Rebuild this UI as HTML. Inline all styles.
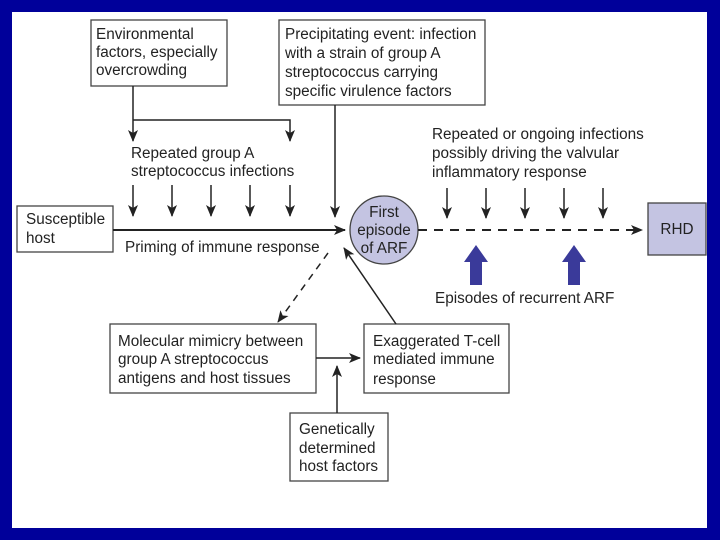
<!DOCTYPE html>
<html><head><style>
body{margin:0;background:#00009a;}
svg{display:block}
text{font-family:"Liberation Sans",sans-serif;font-size:15.3px;fill:#222}
</style></head><body>
<svg width="720" height="540" xmlns="http://www.w3.org/2000/svg">
<defs>
<marker id="a" markerWidth="12" markerHeight="10" refX="11" refY="5" orient="auto" markerUnits="userSpaceOnUse"><path d="M0,0 L12,5 L0,10 L3,5z" fill="#222"/></marker>
</defs>
<rect x="0" y="0" width="720" height="540" fill="#00009a"/>
<rect x="12" y="12" width="695" height="516" fill="#fff"/>
<g stroke="#444" stroke-width="1.3" fill="#fff">
<rect x="91" y="20" width="136" height="66"/>
<rect x="279" y="20" width="206" height="85"/>
<rect x="17" y="206" width="96" height="46"/>
<rect x="648" y="203" width="58" height="52" fill="#c4c4e2"/>
<circle cx="384" cy="230" r="34" fill="#c4c4e2"/>
<rect x="110" y="324" width="206" height="69"/>
<rect x="364" y="324" width="145" height="69"/>
<rect x="290" y="413" width="98" height="68"/>
</g>
<g stroke="#222" stroke-width="1.5" fill="none">
<path d="M133 86 V141" marker-end="url(#a)"/>
<path d="M133 120 H290 V141" marker-end="url(#a)"/>
<path d="M133 185 V216" marker-end="url(#a)"/>
<path d="M172 185 V216" marker-end="url(#a)"/>
<path d="M211 185 V216" marker-end="url(#a)"/>
<path d="M250 185 V216" marker-end="url(#a)"/>
<path d="M290 185 V216" marker-end="url(#a)"/>
<path d="M335 105 V217" marker-end="url(#a)"/>
<path d="M113 230 H345" stroke-width="2" marker-end="url(#a)"/>
<path d="M418 230 H642" stroke-width="2" stroke-dasharray="9,7" marker-end="url(#a)"/>
<path d="M447 188 V218" marker-end="url(#a)"/>
<path d="M486 188 V218" marker-end="url(#a)"/>
<path d="M525 188 V218" marker-end="url(#a)"/>
<path d="M564 188 V218" marker-end="url(#a)"/>
<path d="M603 188 V218" marker-end="url(#a)"/>
<path d="M328 253 L278 322" stroke-dasharray="7,6" marker-end="url(#a)"/>
<path d="M396 324 L344 248" marker-end="url(#a)"/>
<path d="M316 358 H360" marker-end="url(#a)"/>
<path d="M337 413 V366" marker-end="url(#a)"/>
</g>
<g fill="#3a3a9a">
<path d="M470 285 V262 H464 L476 245 L488 262 H482 V285z"/>
<path d="M568 285 V262 H562 L574 245 L586 262 H580 V285z"/>
</g>
<text x="96" y="39">Environmental</text>
<text x="96" y="57">factors, especially</text>
<text x="96" y="75">overcrowding</text>
<text x="285" y="39">Precipitating event: infection</text>
<text x="285" y="58">with a strain of group A</text>
<text x="285" y="77">streptococcus carrying</text>
<text x="285" y="96">specific virulence factors</text>
<text x="131" y="158">Repeated group A</text>
<text x="131" y="176">streptococcus infections</text>
<text x="26" y="224">Susceptible</text>
<text x="26" y="243">host</text>
<text x="125" y="252">Priming of immune response</text>
<text x="384" y="217" text-anchor="middle">First</text>
<text x="384" y="235" text-anchor="middle">episode</text>
<text x="384" y="253" text-anchor="middle">of ARF</text>
<text x="677" y="234" text-anchor="middle">RHD</text>
<text x="432" y="139">Repeated or ongoing infections</text>
<text x="432" y="158">possibly driving the valvular</text>
<text x="432" y="177">inflammatory response</text>
<text x="435" y="303">Episodes of recurrent ARF</text>
<text x="118" y="346">Molecular mimicry between</text>
<text x="118" y="364">group A streptococcus</text>
<text x="118" y="383">antigens and host tissues</text>
<text x="373" y="346">Exaggerated T-cell</text>
<text x="373" y="364">mediated immune</text>
<text x="373" y="384">response</text>
<text x="299" y="434">Genetically</text>
<text x="299" y="453">determined</text>
<text x="299" y="471">host factors</text>
</svg>
</body></html>
